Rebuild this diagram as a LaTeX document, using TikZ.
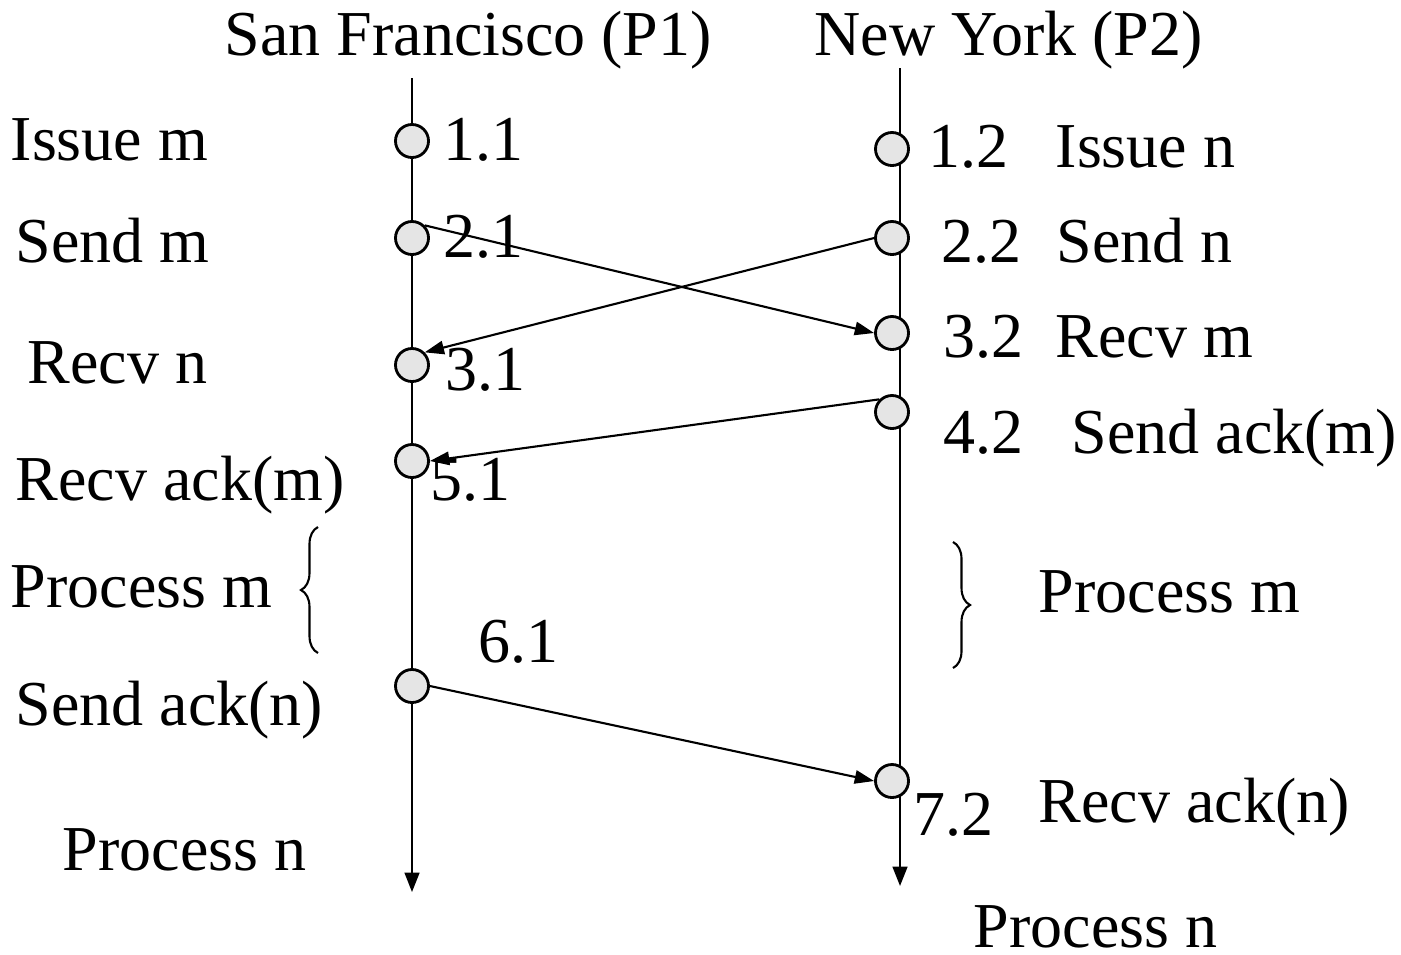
\documentclass[tikz,border=0pt]{standalone}
\usepackage{fontspec}
\setmainfont{Liberation Serif}
\usetikzlibrary{arrows.meta,decorations.pathreplacing}
\begin{document}
\begin{tikzpicture}[x=0.01cm,y=-0.01cm,
  lbl/.style={anchor=base west,inner sep=0pt,font=\fontsize{18.2}{20}\selectfont},
  event/.style={circle,draw=black,line width=0.8pt,fill=black!10,minimum size=0.33cm,inner sep=0pt},
  timeline/.style={line width=0.6pt,-{Triangle[length=5.5pt,width=4.2pt]}},
  msg/.style={line width=0.6pt,-{Triangle[length=5.5pt,width=3.8pt]}},
  bracestyle/.style={line width=0.6pt,decorate,decoration={brace,amplitude=0.17cm}}]
\useasboundingbox (0,0) rectangle (1401,954);
% timelines
\coordinate (p1top) at (412,78);
\coordinate (p1bot) at (412,892);
\coordinate (p2top) at (900,68);
\coordinate (p2bot) at (900,886);
\draw[timeline] (p1top) -- (p1bot);
\draw[timeline] (p2top) -- (p2bot);
% headers
\node[lbl] (h1) at (224,55) {San Francisco (P1)};
\node[lbl] (h2) at (814,55) {New York (P2)};
% events
\node[event] (c11) at (412,141) {};
\node[event] (c21) at (412,238) {};
\node[event] (c31) at (412,365) {};
\node[event] (c51) at (412,461) {};
\node[event] (c61) at (412,686) {};
\node[event] (c12) at (892,149) {};
\node[event] (c22) at (892,238) {};
\node[event] (c32) at (892,333) {};
\node[event] (c42) at (892,412) {};
\node[event] (c72) at (892,781) {};
% messages
\draw[msg] (c21.north east) -- (c32.west);
\draw[msg] (c22.west) -- (c31.north east);
\draw[msg] (c42.north west) -- (c51.east);
\draw[msg] (c61.east) -- (c72.west);
% event numbers
\node[lbl] (n11) at (443,160) {1.1};
\node[lbl] (n21) at (443,257) {2.1};
\node[lbl] (n31) at (445,390) {3.1};
\node[lbl] (n51) at (430,500) {5.1};
\node[lbl] (n61) at (478,662) {6.1};
\node[lbl] (n12) at (928,167) {1.2};
\node[lbl] (n22) at (941,262) {2.2};
\node[lbl] (n32) at (943,357) {3.2};
\node[lbl] (n42) at (943,453) {4.2};
\node[lbl] (n72) at (913,835) {7.2};
% left labels
\node[lbl] (l1) at (10,160) {Issue m};
\node[lbl] (l2) at (15,262) {Send m};
\node[lbl] (l3) at (27,383) {Recv n};
\node[lbl] (l4) at (15,500) {Recv ack(m)};
\node[lbl] (l5) at (10,607) {Process m};
\node[lbl] (l6) at (15,725) {Send ack(n)};
\node[lbl] (l7) at (62,870) {Process n};
% right labels
\node[lbl] (r1) at (1055,167) {Issue n};
\node[lbl] (r2) at (1056,262) {Send n};
\node[lbl] (r3) at (1055,357) {Recv m};
\node[lbl] (r4) at (1071,453) {Send ack(m)};
\node[lbl] (r5) at (1038,612) {Process m};
\node[lbl] (r6) at (1038,822) {Recv ack(n)};
\node[lbl] (r7) at (973,947) {Process n};
% braces
\coordinate (lb1) at (318,653);
\coordinate (lb2) at (318,527);
\coordinate (rb1) at (953,542);
\coordinate (rb2) at (953,668);
\draw[bracestyle] (lb1) -- (lb2);
\draw[bracestyle] (rb1) -- (rb2);
\end{tikzpicture}
\end{document}
